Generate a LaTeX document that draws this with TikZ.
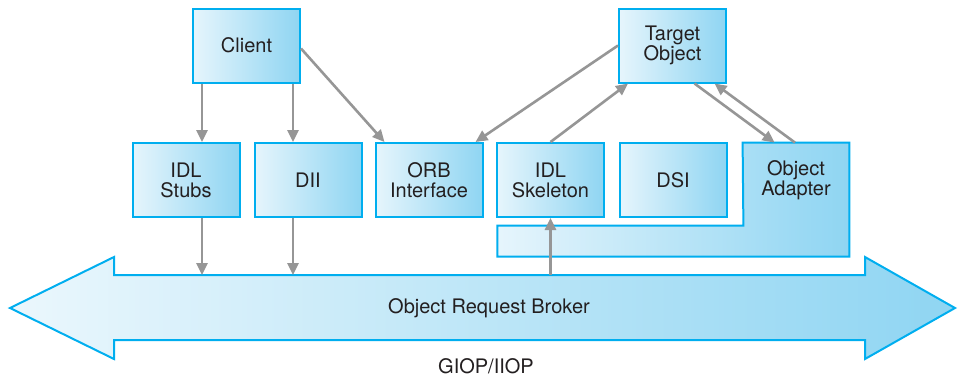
\documentclass[tikz,border=0pt]{standalone}
\usepackage{fontspec}
\setmainfont{TeX Gyre Heros}
\usetikzlibrary{arrows.meta,positioning,calc,backgrounds}
\definecolor{cyanline}{RGB}{0,174,239}
\definecolor{shadeleft}{RGB}{230,245,252}
\definecolor{shaderight}{RGB}{143,213,242}
\definecolor{linkgray}{RGB}{150,150,150}
\definecolor{textgray}{RGB}{35,31,32}
\tikzset{
  shaded/.style={draw=cyanline, line width=1pt, left color=shadeleft, right color=shaderight},
  box/.style={shaded, minimum width=53.5pt, minimum height=37pt, align=center, inner sep=0pt,
    text=textgray, font=\fontsize{10}{10}\selectfont},
  label/.style={text=textgray, font=\fontsize{10}{10}\selectfont, align=center, inner sep=0pt},
  link/.style={draw=linkgray, line width=1.3pt, -{Triangle[length=6pt,width=5.5pt]}},
}

\begin{document}
\begin{tikzpicture}[x=0.5pt,y=-0.5pt]
        \useasboundingbox (0,0) rectangle (958,376);
        % top row
        \node[box] (client) at (246.5,45.5) {Client};
        \node[box] (target) at (672.5,45.5) {Target\\Object};
        % middle row
        \node[box] (stubs) at (186,180) {IDL\\Stubs};
        \node[box] (dii) at (308,180) {DII};
        \node[box] (orbif) at (429,180) {ORB\\Interface};
        \node[box] (skel) at (550.5,180) {IDL\\Skeleton};
        \node[box] (dsi) at (673,180) {DSI};
        \node[label, minimum width=53pt, minimum height=37pt] (adapter) at (796,180) {Object\\Adapter};
        \begin{scope}[on background layer]
          \draw[shaded] (adapter.north west) -- (adapter.north east) -- ++(0,114) -- ++(-352,0)
            -- ++(0,-31) -- ++(246,0) -- cycle;
        \end{scope}
        % broker
        \draw[shaded, left color=shadeleft!80!white] (10,308) -- (114,257) -- (114,275) -- (865,275) -- (865,257)
          -- (955,308) -- (865,359) -- (865,340) -- (114,340) -- (114,359) -- cycle;
        \node[label] (broker) at (489,308) {Object Request Broker};
        \node[label] (giop) at (486,366) {GIOP/IIOP};
        \coordinate (shaft) at (0,275);
        % links
        \draw[link] ([xshift=5pt]client.south west) -- ([xshift=5pt]client.south west |- stubs.north);
        \draw[link] ([xshift=-4pt]client.south east) -- ([xshift=-4pt]client.south east |- dii.north);
        \draw[link] ([yshift=-1.5pt]client.east) -- ([xshift=5pt]orbif.north west);
        \draw[link] (target.west) -- ([xshift=-4pt]orbif.north east);
        \draw[link] (skel.north) -- ([xshift=5pt]target.south west);
        \draw[link] ([xshift=11pt]target.south) -- ([xshift=16pt]adapter.north west);
        \draw[link] ([xshift=-0.5pt]adapter.north) -- ([xshift=21pt]target.south);
        \draw[link] ([xshift=5pt]client.south west |- stubs.south) -- ([xshift=5pt]client.south west |- shaft);
        \draw[link] ([xshift=-4pt]client.south east |- dii.south) -- ([xshift=-4pt]client.south east |- shaft);
        \draw[link] (skel.south |- shaft) -- (skel.south);
      \end{tikzpicture}
\end{document}
